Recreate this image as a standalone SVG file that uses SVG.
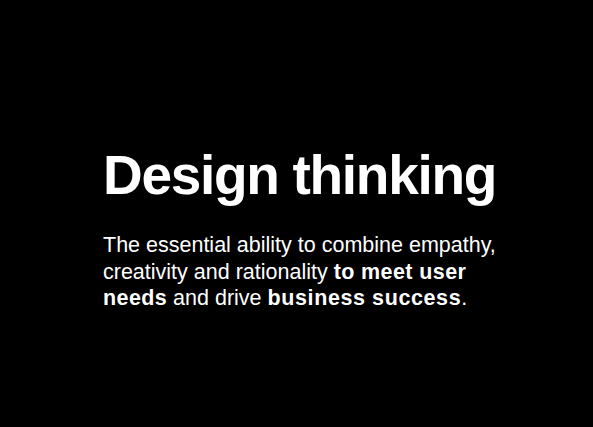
<svg xmlns="http://www.w3.org/2000/svg" width="593" height="427" viewBox="0 0 593 427">
<style>
.t{font-family:"Liberation Sans",Arial,sans-serif;fill:#fff}
.h{font-size:55px;font-weight:bold;letter-spacing:-1.3px}
.b{font-size:21.5px}
.s{font-weight:bold;letter-spacing:0.4px}
</style>
<rect width="593" height="427" fill="#000"/>
<g id="title"><text class="t h" x="103" y="194">Design thinking</text></g>
<g id="body">
<text class="t b" x="103" y="252">The essential ability to combine empathy,</text>
<text class="t b" x="103" y="278.5">creativity and rationality <tspan class="s">to meet user</tspan></text>
<text class="t b" x="103" y="305"><tspan class="s">needs</tspan> and drive <tspan class="s" style="letter-spacing:0.6px">business success</tspan>.</text>
</g>
</svg>
